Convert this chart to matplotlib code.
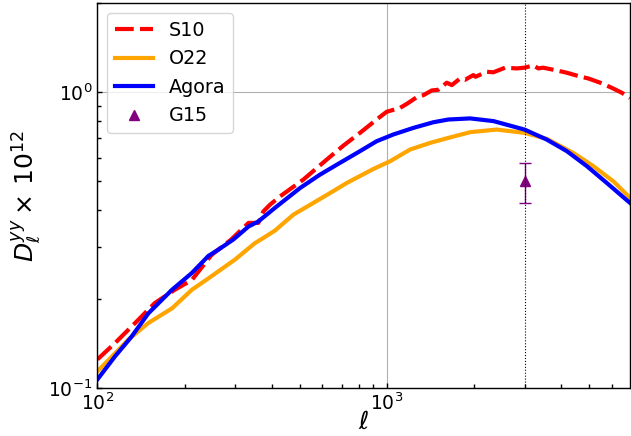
import numpy as np
import matplotlib
matplotlib.use("Agg")
import matplotlib.pyplot as plt

# tSZ power spectra D_ell^yy (x 1e12) for the different models
ell_s10 = [100, 115, 135, 158, 185, 212, 248, 290, 333, 360, 375, 395, 428, 515, 621, 709,
           809, 924, 1000, 1113, 1175, 1272, 1340, 1434, 1508, 1615, 1681, 1796, 1868,
           1996, 2030, 2222, 2340, 2570, 2821, 3000, 3221, 3350, 3480, 3830, 4203, 4610,
           4990, 5480, 6010, 6510, 6950]
dl_s10 = [0.125, 0.142, 0.166, 0.194, 0.215, 0.232, 0.282, 0.318, 0.362, 0.362, 0.396, 0.417,
          0.445, 0.507, 0.593, 0.661, 0.730, 0.810, 0.860, 0.887, 0.915, 0.964, 0.979,
          1.016, 1.021, 1.079, 1.059, 1.115, 1.104, 1.145, 1.130, 1.175, 1.170, 1.213,
          1.206, 1.213, 1.235, 1.206, 1.213, 1.190, 1.166, 1.136, 1.115, 1.079, 1.037,
          0.998, 0.958]

ell_o22 = [100, 115, 128, 150, 181, 212, 242, 299, 350, 375, 411, 476, 558, 638, 728, 900,
           1028, 1205, 1413, 1636, 1946, 2404, 3000, 3580, 4428, 5194, 6095, 6950]
dl_o22 = [0.114, 0.131, 0.146, 0.166, 0.186, 0.215, 0.235, 0.272, 0.309, 0.322, 0.341, 0.386,
          0.423, 0.457, 0.494, 0.551, 0.585, 0.641, 0.675, 0.702, 0.734, 0.749, 0.730,
          0.697, 0.624, 0.563, 0.500, 0.440]

ell_agora = [100, 115, 131, 150, 181, 212, 242, 262, 295, 333, 360, 411, 502, 588, 690, 809,
             924, 1056, 1239, 1452, 1636, 1946, 2343, 3000, 3580, 4203, 4933, 5779, 6950]
dl_agora = [0.107, 0.128, 0.149, 0.179, 0.215, 0.245, 0.280, 0.294, 0.318, 0.352, 0.366,
            0.407, 0.475, 0.527, 0.578, 0.633, 0.684, 0.721, 0.759, 0.793, 0.810, 0.817,
            0.800, 0.749, 0.693, 0.633, 0.563, 0.494, 0.423]

# G15 measurement at ell = 3000
ell_g15 = [3000]
dl_g15 = [0.50]
err_g15 = [0.077]

fig, ax = plt.subplots(figsize=(6.31, 4.36), dpi=100)
fig.subplots_adjust(left=0.1545, right=0.9984, bottom=0.110, top=0.992)

ax.plot(ell_s10, dl_s10, color='red', lw=3, dashes=(4.5, 1.5), label='S10')
ax.plot(ell_o22, dl_o22, color='orange', lw=3, label='O22')
ax.plot(ell_agora, dl_agora, color='blue', lw=3, label='Agora')
ax.errorbar(ell_g15, dl_g15, yerr=err_g15, fmt='none', ecolor='purple',
            elinewidth=1, capsize=4, capthick=1)
ax.plot(ell_g15, dl_g15, '^', color='purple', ms=7, ls='none', label='G15')

ax.axvline(3000, color='k', ls=':', lw=0.8)

ax.set_xscale('log')
ax.set_yscale('log')
ax.set_xlim(100, 6950)
ax.set_ylim(0.1, 2.0)
ax.grid(True, which='major', color='#b0b0b0', lw=0.8)

ax.tick_params(which='both', direction='in', labelsize=13.5, top=False, right=False)
ax.tick_params(which='major', length=3.5, width=1)
ax.tick_params(which='minor', length=3, width=1)
for sp in ax.spines.values():
    sp.set_linewidth(1.0)

ax.set_xlabel(r'$\ell$', fontsize=18, labelpad=-3)
ax.set_ylabel(r'$D_\ell^{yy} \times\, 10^{12}$', fontsize=18)
ax.legend(loc='upper left', fontsize=13.8)

plt.savefig('out.png', dpi=100)
